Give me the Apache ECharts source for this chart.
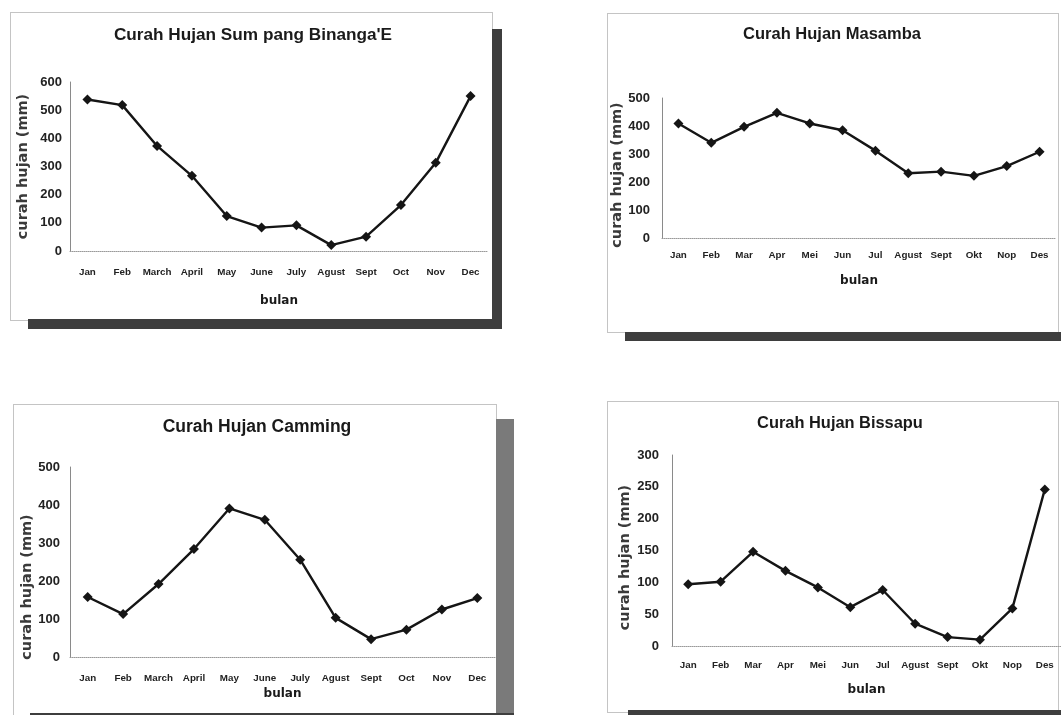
<!DOCTYPE html>
<html>
<head>
<meta charset="utf-8">
<script src="https://cdn.jsdelivr.net/npm/echarts@6/dist/echarts.min.js"></script>
<style>
html,body{margin:0;padding:0;background:#fff;}
#wrap{position:relative;width:1061px;height:715px;overflow:hidden;background:#fff;}
.frame{position:absolute;border:1px solid #c4c4c4;box-sizing:border-box;}
.sh{position:absolute;background:#3e3e3e;}
#chart{position:absolute;left:0;top:0;width:1061px;height:715px;}
</style>
</head>
<body>
<div id="wrap">
  <div class="frame" style="left:10px;top:12px;width:483px;height:309px;"></div>
  <div class="sh" style="left:492px;top:29px;width:10px;height:300px;"></div>
  <div class="sh" style="left:28px;top:319px;width:474px;height:10px;"></div>

  <div class="frame" style="left:607px;top:13px;width:452px;height:320px;"></div>
  <div class="sh" style="left:625px;top:332px;width:440px;height:9px;"></div>

  <div class="frame" style="left:13px;top:404px;width:484px;height:312px;"></div>
  <div class="sh" style="left:496px;top:419px;width:18px;height:300px;background:#7a7a7a;"></div>
  <div class="sh" style="left:30px;top:713px;width:484px;height:4px;"></div>

  <div class="frame" style="left:607px;top:401px;width:452px;height:312px;"></div>
  <div class="sh" style="left:628px;top:710px;width:440px;height:8px;"></div>

  <div id="chart"></div>
</div>
<script>
// ---- data ----
const monthsEN = ['Jan','Feb','March','April','May','June','July','Agust','Sept','Oct','Nov','Dec'];
const monthsID = ['Jan','Feb','Mar','Apr','Mei','Jun','Jul','Agust','Sept','Okt','Nop','Des'];

const titleSumpang = "Curah Hujan Sum pang Binanga'E";
const titleMasamba = 'Curah Hujan Masamba';
const titleCamming = 'Curah Hujan Camming';
const titleBissapu = 'Curah Hujan Bissapu';

const rainSumpang = [538, 518, 373, 267, 124, 83, 91, 21, 51, 163, 313, 550];
const rainMasamba = [409, 340, 397, 447, 409, 385, 312, 231, 237, 222, 257, 308];
const rainCamming = [158, 113, 192, 284, 391, 361, 256, 103, 47, 72, 125, 155];
const rainBissapu = [97, 101, 148, 118, 92, 61, 88, 35, 14, 10, 59, 246];

const yMaxList = [600, 500, 500, 300];
const yStepList = [100, 100, 100, 50];

const xName = 'bulan';
const yName = 'curah hujan (mm)';

// ---- layout ----
const SANS = "'Liberation Sans',Arial,sans-serif";
const WIDE = "'DejaVu Sans',Verdana,sans-serif";

const panels = [
  {title: titleSumpang, cats: monthsEN, data: rainSumpang, grid:{left:70,top:82,width:418,height:169},
   tx:248, ty:35, tsize:17.2, xLabM:16, xGap:44, yGap:39, yLabM:8, yShift:0},
  {title: titleMasamba, cats: monthsID, data: rainMasamba, grid:{left:662,top:98,width:394,height:140},
   tx:827, ty:34, tsize:16.5, xLabM:12, xGap:37, yGap:37, yLabM:12, yShift:14},
  {title: titleCamming, cats: monthsEN, data: rainCamming, grid:{left:70,top:467,width:425,height:190},
   tx:252, ty:427, tsize:17.5, xLabM:16, xGap:31, yGap:35, yLabM:10, yShift:50},
  {title: titleBissapu, cats: monthsID, data: rainBissapu, grid:{left:672,top:455,width:390,height:191},
   tx:835, ty:424, tsize:16.4, xLabM:14, xGap:38, yGap:39, yLabM:13, yShift:14}
];

const option = {
  animation:false,
  backgroundColor:'transparent',
  title:[], grid:[], xAxis:[], yAxis:[], series:[]
};

panels.forEach((p, i) => {
  option.title.push({
    text:p.title, left:p.tx, top:p.ty - p.tsize/2 - 5, textAlign:'center',
    textStyle:{fontFamily:SANS, fontWeight:'bold', fontSize:p.tsize, color:'#1a1a1a'}
  });
  option.grid.push(Object.assign({containLabel:false}, p.grid));
  option.xAxis.push({
    type:'category', gridIndex:i, data:p.cats, boundaryGap:true,
    name:xName, nameLocation:'middle', nameGap:p.xGap,
    nameTextStyle:{fontFamily:WIDE, fontWeight:'bold', fontSize:12, color:'#1a1a1a'},
    axisLine:{show:true, lineStyle:{color:'#9a9a9a', width:1, type:'dotted'}},
    axisTick:{show:false},
    axisLabel:{interval:0, margin:p.xLabM, fontFamily:SANS, fontWeight:'bold', fontSize:9.8, color:'#222'},
    splitLine:{show:false}
  });
  option.yAxis.push({
    type:'value', gridIndex:i, min:0, max:yMaxList[i], interval:yStepList[i],
    name:yName, nameLocation:'middle', nameGap:p.yGap,
    nameTextStyle:{fontFamily:WIDE, fontWeight:'bold', fontSize:14.5, color:'#3a3a3a', padding:[0,p.yShift,0,0]},
    axisLine:{show:true, lineStyle:{color:'#8a8a8a', width:1}},
    axisTick:{show:false},
    axisLabel:{margin:p.yLabM, fontFamily:SANS, fontWeight:'bold', fontSize:13, color:'#222'},
    splitLine:{show:false}
  });
  option.series.push({
    type:'line', xAxisIndex:i, yAxisIndex:i, data:p.data,
    symbol:'diamond', symbolSize:10,
    lineStyle:{color:'#151515', width:2.4},
    itemStyle:{color:'#151515'}
  });
});

const chart = echarts.init(document.getElementById('chart'), null, {renderer:'canvas'});
chart.setOption(option);
</script>
</body>
</html>
